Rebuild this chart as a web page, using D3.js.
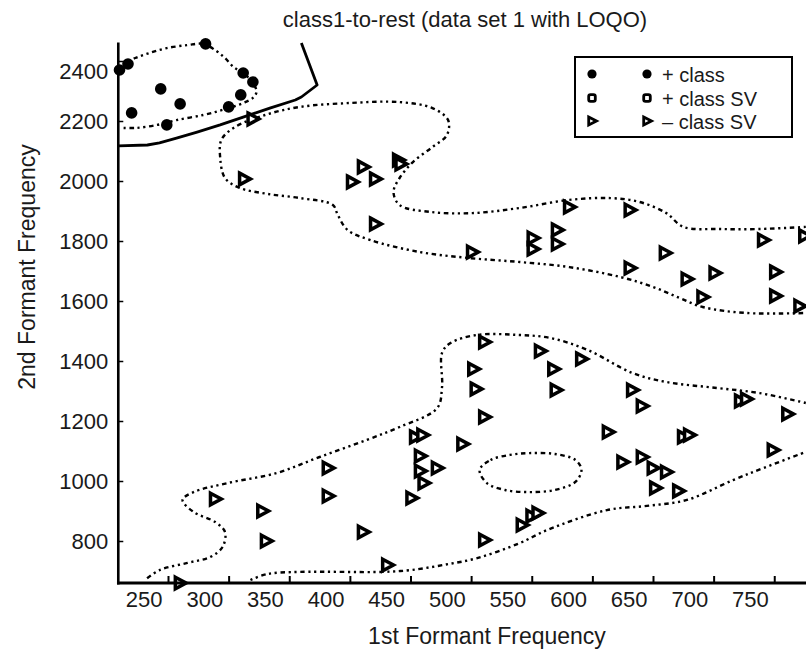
<!DOCTYPE html>
<html><head><meta charset="utf-8">
<script src="https://cdn.jsdelivr.net/npm/d3@7"></script>
<style>
body{margin:0;background:#fff;}
svg text{font-family:"Liberation Sans",Arial,Helvetica,sans-serif;fill:#1a1a1a;}
</style></head><body>
<svg id="chart" width="806" height="652"></svg>
<script>
// ---------- data (F1, F2 in Hz) ----------
const chartTitle = "class1-to-rest (data set 1 with LOQO)";
const xTitle = "1st Formant Frequency";
const yTitle = "2nd Formant Frequency";
const xTickValues = [250,300,350,400,450,500,550,600,650,700,750];
const yTickValues = [800,1000,1200,1400,1600,1800,2000,2200,2400];
const xDomain = [209, 780];
const yDomain = [660, 2462];

const positiveClass = [
  [281,2457],[217,2390],[210,2370],[312,2360],[320,2330],[244,2307],
  [310,2287],[260,2257],[300,2247],[220,2227],[249,2187]
];
const negativeSV = [
  [320,2207],[313,2007],[411,2047],[402,1997],[421,2007],[440,2070],[442,2057],
  [421,1857],[581,1913],[631,1903],[501,1763],[551,1810],[551,1773],[571,1837],
  [571,1790],[660,1760],[741,1803],[631,1710],[678,1673],[701,1693],[751,1697],
  [691,1613],[751,1617],[771,1583],[775,1817],
  [511,1463],[557,1433],[591,1407],[502,1373],[568,1373],[504,1307],[570,1303],
  [633,1303],[641,1250],[722,1267],[727,1273],[761,1223],[511,1213],[613,1163],
  [675,1147],[680,1153],[454,1147],[460,1153],[493,1123],[458,1083],[458,1033],
  [472,1043],[461,993],[382,1043],[382,950],[451,943],[289,940],[328,900],
  [331,800],[411,830],[511,803],[431,720],[260,660],[625,1063],[641,1080],
  [650,1043],[661,1030],[652,977],[671,967],[542,853],[550,883],[555,893],[749,1103]
];
const decisionBoundary = [
  [209,2117],[233,2120],[243,2127],[257,2143],[274,2163],[293,2187],[312,2213],
  [334,2243],[355,2270],[360,2280],[373,2320],[360,2460]
];
const marginPositive = [
  [213,2390],[223,2410],[235,2427],[249,2443],[266,2453],[279,2457],[290,2433],
  [297,2410],[304,2380],[312,2360],[320,2327],[323,2297],[320,2277],[312,2260],
  [295,2237],[279,2220],[257,2203],[241,2187],[224,2177],[212,2177]
];
const marginUpper = [
  [776,1847],[738,1840],[705,1840],[675,1847],[661,1893],[639,1930],[615,1943],
  [581,1937],[540,1910],[501,1893],[466,1897],[441,1920],[436,1963],[441,2010],
  [452,2063],[468,2113],[480,2153],[481,2203],[468,2243],[441,2263],[400,2260],
  [359,2247],[330,2220],[304,2177],[294,2137],[293,2080],[297,2010],[309,1977],
  [332,1957],[359,1943],[386,1920],[390,1887],[398,1837],[417,1803],[458,1763],
  [499,1743],[540,1730],[581,1713],[623,1680],[650,1647],[672,1610],[691,1580],
  [727,1560],[776,1560]
];
const marginLowerTop = [
  [776,1260],[738,1293],[703,1310],[661,1330],[633,1360],[596,1437],[565,1477],
  [538,1487],[505,1487],[483,1460],[476,1427],[476,1313],[472,1243],[441,1180],
  [414,1137],[375,1080],[340,1027],[299,993],[271,963],[262,937],[271,897],
  [289,863],[297,830],[295,780],[285,747],[266,727],[243,703],[231,670]
];
const marginLowerBottom = [
  [318,670],[332,690],[359,697],[427,697],[450,703],[477,720],[505,743],
  [540,793],[563,837],[612,903],[645,917],[678,937],[716,1003],[741,1043],[776,1097]
];
const marginIsland = [
  [507,1037],[516,1070],[532,1087],[548,1093],[569,1090],[586,1070],
  [591,1037],[586,997],[569,970],[548,963],[528,970],[513,993]
];
const legendItems = ["+ class", "+ class SV", "\u2013 class SV"];

// ---------- drawing ----------
const svg = d3.select("#chart");
const x = d3.scaleLinear().domain([250,750]).range([168,774.25]);
const y = d3.scaleLinear().domain([1000,2000]).range([481,181]);
const FS = 22;

const triPath = "M-4.8,-5.8L6,0L-4.8,5.8Z";

// title
svg.append("text").attr("x",465).attr("y",27).attr("text-anchor","middle")
  .style("font-size","22px").text(chartTitle);

// contours
const dotted = svg.append("g").attr("fill","none").attr("stroke","#000")
  .attr("stroke-width",2.4).attr("stroke-dasharray","2.2,3.6,2.2,3.6,4.5,3.6");
const line = d3.line().x(d=>x(d[0])).y(d=>y(d[1])).curve(d3.curveCatmullRom.alpha(0.5));
const lineClosed = d3.line().x(d=>x(d[0])).y(d=>y(d[1])).curve(d3.curveCatmullRomClosed.alpha(0.5));
[marginPositive, marginUpper, marginLowerTop, marginLowerBottom].forEach(arr=>{
  dotted.append("path").attr("d", line(arr));
});
dotted.append("path").attr("d", lineClosed(marginIsland));

// decision boundary
svg.append("path").attr("d", d3.line().x(d=>x(d[0])).y(d=>y(d[1])).curve(d3.curveLinear)(decisionBoundary))
  .attr("fill","none").attr("stroke","#000").attr("stroke-width",2.8).attr("stroke-linejoin","round");

// points
svg.append("g").selectAll("circle").data(positiveClass).join("circle")
  .attr("cx",d=>x(d[0])).attr("cy",d=>y(d[1])).attr("r",5.8).attr("fill","#000");
svg.append("g").selectAll("path").data(negativeSV).join("path")
  .attr("transform",d=>`translate(${x(d[0])},${y(d[1])})`).attr("d",triPath)
  .attr("fill","#fff").attr("stroke","#000").attr("stroke-width",3.5).attr("stroke-linejoin","miter");

// axes
const x0 = x(xDomain[0]), x1 = x(xDomain[1]);
const yb = y(yDomain[0]), yt = y(yDomain[1]);
svg.append("line").attr("x1",x0).attr("x2",x0).attr("y1",yt).attr("y2",yb+1.5)
  .attr("stroke","#000").attr("stroke-width",2.6);
svg.append("line").attr("x1",x0-1.3).attr("x2",x1).attr("y1",yb).attr("y2",yb)
  .attr("stroke","#000").attr("stroke-width",3);

const xAxis = svg.append("g").attr("transform",`translate(0,${yb})`)
  .call(d3.axisBottom(x).tickValues(xTickValues).tickSize(-7).tickPadding(0).tickFormat(d3.format("d")));
xAxis.select(".domain").remove();
xAxis.selectAll(".tick line").attr("stroke","#000").attr("stroke-width",2);
xAxis.selectAll(".tick text").attr("text-anchor","end").attr("x",-6).attr("y",24).attr("dy",0)
  .style("font-size",FS+"px").attr("fill","#1a1a1a").style("font-family",null);

const yAxis = svg.append("g").attr("transform",`translate(${x0},0)`)
  .call(d3.axisLeft(y).tickValues(yTickValues).tickSize(-5).tickPadding(10).tickFormat(d3.format("d")));
yAxis.select(".domain").remove();
yAxis.selectAll(".tick line").attr("stroke","#000").attr("stroke-width",1.5);
yAxis.selectAll(".tick text").style("font-size",FS+"px").attr("fill","#1a1a1a").style("font-family",null)
  .attr("dy", d => d===2400 ? "0.8em" : "0.35em");

// axis titles
svg.append("text").attr("x",487).attr("y",644).attr("text-anchor","middle")
  .style("font-size","23px").text(xTitle);
svg.append("text").attr("transform","translate(35,267) rotate(-90)").attr("text-anchor","middle")
  .style("font-size","23px").text(yTitle);

// legend
const lg = svg.append("g").attr("transform","translate(575,57)");
lg.append("rect").attr("width",217).attr("height",80).attr("fill","#fff").attr("stroke","#000").attr("stroke-width",2);
const rowsY = [17, 41, 64];
legendItems.forEach((t,i)=>{
  const g = lg.append("g").attr("transform",`translate(0,${rowsY[i]})`);
  [17,72].forEach(cx=>{
    const sg = g.append("g").attr("transform",`translate(${cx},0)`);
    if(i===0) sg.append("circle").attr("r",4.6).attr("fill","#000");
    else if(i===1) sg.append("rect").attr("x",-3.3).attr("y",-3.3).attr("width",6.6).attr("height",6.6).attr("rx",1.8)
      .attr("fill","#fff").attr("stroke","#000").attr("stroke-width",2.8);
    else sg.append("path").attr("d","M-3.3,-4L4.5,0L-3.3,4Z").attr("fill","#fff").attr("stroke","#000").attr("stroke-width",2.8);
  });
  g.append("text").attr("x",87).attr("y",7.5).style("font-size","20px").text(t);
});
</script>
</body></html>
